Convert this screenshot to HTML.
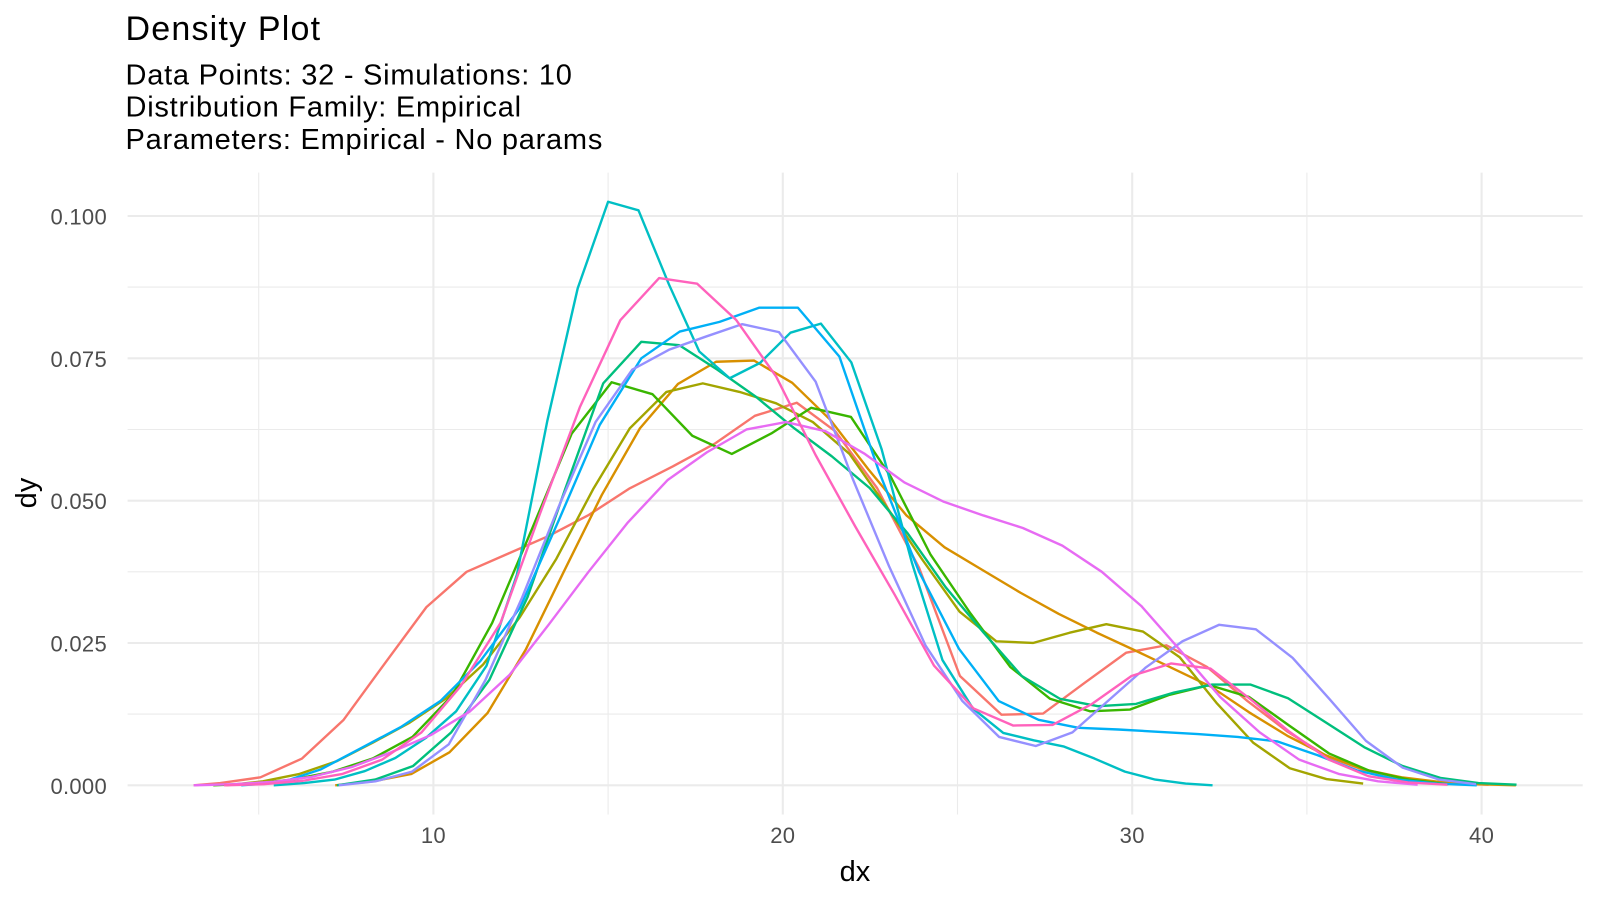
<!DOCTYPE html>
<html>
<head>
<meta charset="utf-8">
<style>
  html, body { margin: 0; padding: 0; background: #ffffff; }
  svg { display: block; }
  text { font-family: "Liberation Sans", Arial, sans-serif; }
</style>
</head>
<body>
<svg width="1600" height="900" viewBox="0 0 1600 900" xmlns="http://www.w3.org/2000/svg">
  <rect x="0" y="0" width="1600" height="900" fill="#ffffff"/>

  <!-- minor gridlines -->
  <g stroke="#EBEBEB" stroke-width="1.1" fill="none">
    <line x1="127.6" x2="1582.7" y1="714.1" y2="714.1"/>
    <line x1="127.6" x2="1582.7" y1="571.8" y2="571.8"/>
    <line x1="127.6" x2="1582.7" y1="429.5" y2="429.5"/>
    <line x1="127.6" x2="1582.7" y1="287.1" y2="287.1"/>
    <line y1="172.6" y2="814.5" x1="258.7" x2="258.7"/>
    <line y1="172.6" y2="814.5" x1="608.1" x2="608.1"/>
    <line y1="172.6" y2="814.5" x1="957.5" x2="957.5"/>
    <line y1="172.6" y2="814.5" x1="1306.9" x2="1306.9"/>
  </g>
  <!-- major gridlines -->
  <g stroke="#EBEBEB" stroke-width="2.1" fill="none">
    <line x1="127.6" x2="1582.7" y1="785.3" y2="785.3"/>
    <line x1="127.6" x2="1582.7" y1="643.0" y2="643.0"/>
    <line x1="127.6" x2="1582.7" y1="500.65" y2="500.65"/>
    <line x1="127.6" x2="1582.7" y1="358.3" y2="358.3"/>
    <line x1="127.6" x2="1582.7" y1="216.0" y2="216.0"/>
    <line y1="172.6" y2="814.5" x1="433.4" x2="433.4"/>
    <line y1="172.6" y2="814.5" x1="782.8" x2="782.8"/>
    <line y1="172.6" y2="814.5" x1="1132.2" x2="1132.2"/>
    <line y1="172.6" y2="814.5" x1="1481.6" x2="1481.6"/>
  </g>

  <!-- density lines (data coordinates) -->
  <g transform="matrix(34.94 0 0 -5693 84 785.3)" fill="none" stroke-width="2.4" stroke-linejoin="round" stroke-linecap="butt">
    <polyline vector-effect="non-scaling-stroke" stroke="#F8766D" points="3.14,0 3.9,0.0004 5.05,0.0014 6.24,0.0047 7.43,0.0115 8.62,0.0215 9.8,0.0313 10.95,0.0375 12.14,0.0407 13.3,0.0438 14.45,0.0475 15.6,0.0521 16.85,0.056 18.05,0.06 19.2,0.0649 20.4,0.0672 21.5,0.0622 22.7,0.0522 23.9,0.0382 25.07,0.0192 26.26,0.0124 27.45,0.0126 28.64,0.018 29.83,0.0233 30.98,0.0246 32.14,0.0208 33.3,0.0148 34.45,0.0094 35.6,0.005 36.8,0.0023 37.95,0.0009 39.1,0.0003 40.2,0.0001"/>
    <polyline vector-effect="non-scaling-stroke" stroke="#D89000" points="7.19,0 8.28,0.0007 9.37,0.002 10.46,0.0058 11.55,0.0127 12.64,0.0238 13.73,0.0375 14.82,0.051 15.91,0.0627 17,0.0705 18.09,0.0744 19.18,0.0746 20.27,0.0707 21.36,0.0642 22.45,0.0555 23.54,0.0474 24.63,0.0418 25.72,0.0378 26.81,0.0338 27.9,0.0301 28.99,0.0268 30.08,0.0237 31.17,0.0205 32.26,0.0173 33.35,0.0128 34.44,0.0087 35.53,0.0053 36.62,0.0028 37.71,0.0014 38.8,0.0006 39.89,0.0002 40.98,0"/>
    <polyline vector-effect="non-scaling-stroke" stroke="#A3A500" points="4.07,0 5.12,0.0007 6.17,0.002 7.22,0.0042 8.27,0.0075 9.32,0.011 10.37,0.0153 11.42,0.0212 12.47,0.0295 13.52,0.0398 14.57,0.052 15.62,0.0627 16.67,0.0691 17.71,0.0706 18.76,0.0691 19.81,0.0671 20.86,0.0638 21.91,0.0582 22.96,0.049 24.01,0.0395 25.06,0.0305 26.11,0.0253 27.16,0.025 28.21,0.0268 29.26,0.0283 30.31,0.027 31.36,0.0225 32.41,0.0145 33.46,0.0075 34.51,0.003 35.56,0.0011 36.61,0.0003"/>
    <polyline vector-effect="non-scaling-stroke" stroke="#39B600" points="3.7,0 4.84,0.0003 5.98,0.001 7.12,0.0024 8.26,0.0047 9.4,0.0085 10.54,0.0158 11.68,0.0285 12.82,0.045 13.96,0.0618 15.1,0.0708 16.27,0.0687 17.41,0.0614 18.54,0.0582 19.67,0.0618 20.81,0.0663 21.95,0.0647 23.09,0.0542 24.23,0.0405 25.37,0.0302 26.51,0.0208 27.65,0.0152 28.79,0.013 29.93,0.0133 31.07,0.0159 32.21,0.0176 33.35,0.0155 34.49,0.0105 35.63,0.0056 36.77,0.0026 37.91,0.001 39.05,0.0002"/>
    <polyline vector-effect="non-scaling-stroke" stroke="#00BF7D" points="7.24,0 8.33,0.001 9.42,0.0034 10.51,0.0093 11.6,0.0185 12.69,0.033 13.77,0.052 14.86,0.0706 15.95,0.0779 17.04,0.0773 18.13,0.073 19.22,0.0683 20.31,0.0628 21.4,0.0578 22.49,0.0522 23.58,0.0442 24.66,0.0348 25.75,0.0268 26.84,0.0192 27.93,0.0152 29.02,0.0139 30.11,0.0143 31.2,0.0163 32.29,0.0177 33.38,0.0177 34.46,0.0153 35.55,0.011 36.64,0.0067 37.73,0.0034 38.82,0.0013 39.91,0.0004 41,0.0001"/>
    <polyline vector-effect="non-scaling-stroke" stroke="#00BFC4" points="5.43,0 6.3,0.0004 7.17,0.001 8.04,0.0025 8.91,0.0048 9.78,0.0083 10.65,0.013 11.52,0.021 12.39,0.037 13.26,0.064 14.13,0.0873 15,0.1025 15.87,0.101 16.74,0.088 17.61,0.0762 18.48,0.0715 19.35,0.0742 20.22,0.0795 21.09,0.0811 21.96,0.0743 22.83,0.059 23.7,0.039 24.57,0.022 25.44,0.0135 26.31,0.0092 27.18,0.0079 28.05,0.0068 28.92,0.0047 29.79,0.0024 30.66,0.001 31.53,0.0003 32.3,0"/>
    <polyline vector-effect="non-scaling-stroke" stroke="#00B0F6" points="4.5,0 5.64,0.0005 6.78,0.0028 7.92,0.0065 9.06,0.0102 10.2,0.0148 11.34,0.0218 12.48,0.0312 13.62,0.047 14.76,0.0633 15.95,0.075 17.05,0.0797 18.19,0.0814 19.33,0.0839 20.43,0.0839 21.62,0.0753 22.76,0.055 23.9,0.0375 25.04,0.024 26.18,0.0148 27.32,0.0115 28.46,0.0101 29.6,0.0098 30.74,0.0094 31.88,0.009 33.02,0.0085 34.16,0.0077 35.3,0.0053 36.44,0.0026 37.58,0.001 38.72,0.0003 39.86,0"/>
    <polyline vector-effect="non-scaling-stroke" stroke="#9590FF" points="7.29,0 8.34,0.0007 9.39,0.0024 10.44,0.0072 11.49,0.0185 12.54,0.033 13.59,0.049 14.64,0.0638 15.69,0.073 16.74,0.0765 17.79,0.0788 18.84,0.081 19.89,0.0796 20.94,0.0709 21.99,0.054 23.04,0.0385 24.09,0.0245 25.14,0.0148 26.19,0.0085 27.24,0.0069 28.29,0.0093 29.34,0.015 30.39,0.0207 31.44,0.0253 32.49,0.0282 33.54,0.0274 34.59,0.0224 35.64,0.0152 36.69,0.0078 37.74,0.0031 38.79,0.001 39.84,0.0002"/>
    <polyline vector-effect="non-scaling-stroke" stroke="#E76BF3" points="3.14,0 4.27,0.0002 5.4,0.0006 6.53,0.0015 7.66,0.0032 8.79,0.0058 9.92,0.0088 11.05,0.013 12.18,0.0194 13.31,0.0283 14.44,0.0375 15.57,0.0462 16.7,0.0536 17.83,0.0585 18.96,0.0625 20.09,0.0638 21.22,0.0622 22.35,0.0582 23.48,0.0532 24.61,0.0498 25.74,0.0474 26.87,0.0452 28,0.0421 29.13,0.0375 30.26,0.0315 31.39,0.0236 32.52,0.0155 33.65,0.0093 34.78,0.0045 35.91,0.002 37.04,0.0007 38.17,0.0001"/>
    <polyline vector-effect="non-scaling-stroke" stroke="#FF62BC" points="4.01,0 5.14,0.0002 6.27,0.0008 7.4,0.002 8.53,0.0045 9.66,0.0093 10.79,0.0175 11.92,0.0285 13.05,0.0477 14.19,0.0664 15.35,0.0817 16.46,0.0891 17.55,0.0881 18.67,0.0817 19.81,0.0718 20.94,0.058 22.07,0.0455 23.2,0.0335 24.33,0.021 25.46,0.0135 26.59,0.0105 27.72,0.0106 28.85,0.0143 29.98,0.0192 31.11,0.0214 32.24,0.0205 33.37,0.0152 34.5,0.0094 35.63,0.0045 36.76,0.0016 37.89,0.0005 39.02,0.0001"/>
  </g>

  <!-- y axis tick labels -->
  <g fill="#4D4D4D" font-size="22" text-anchor="end" letter-spacing="0.3">
    <text x="107" y="224.5">0.100</text>
    <text x="107" y="366.8">0.075</text>
    <text x="107" y="509.2">0.050</text>
    <text x="107" y="651.5">0.025</text>
    <text x="107" y="793.8">0.000</text>
  </g>
  <!-- x axis tick labels -->
  <g fill="#4D4D4D" font-size="22" text-anchor="middle" letter-spacing="0.3">
    <text x="433.4" y="843">10</text>
    <text x="782.8" y="843">20</text>
    <text x="1132.2" y="843">30</text>
    <text x="1481.6" y="843">40</text>
  </g>

  <!-- axis titles -->
  <text x="855" y="881" font-size="29" fill="#000" text-anchor="middle">dx</text>
  <text x="36" y="493" font-size="29" fill="#000" text-anchor="middle" transform="rotate(-90 36 493)">dy</text>

  <!-- title & subtitle -->
  <text x="125.5" y="40" font-size="34" fill="#000" letter-spacing="1.2">Density Plot</text>
  <g font-size="29" fill="#000" letter-spacing="0.75">
    <text x="125.5" y="84.3">Data Points: 32 - Simulations: 10</text>
    <text x="125.5" y="116.7">Distribution Family: Empirical</text>
    <text x="125.5" y="149">Parameters: Empirical - No params</text>
  </g>
</svg>
</body>
</html>
